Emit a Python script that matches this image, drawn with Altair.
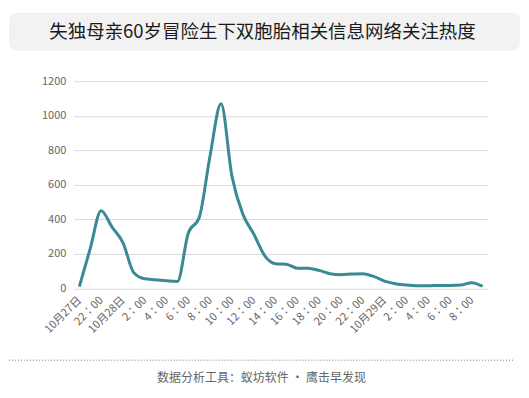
import altair as alt
import pandas as pd

title_text = "失独母亲60岁冒险生下双胞胎相关信息网络关注热度"
footer_text = "数据分析工具：蚁坊软件 · 鹰击早发现"

# hourly points from 10月27日 20:00 to 10月29日 9:00
hours = list(range(38))
values = [10, 230, 450, 355, 265, 90, 55, 50, 44, 40,
          320, 410, 770, 1070, 650, 430, 315, 190, 143, 140,
          117, 117, 104, 85, 79, 83, 85, 69, 42, 27,
          19, 15, 15, 17, 17, 19, 33, 12]
tick_labels = ["10月27日", "22：00", "10月28日", "2：00", "4：00", "6：00", "8：00",
               "10：00", "12：00", "14：00", "16：00", "18：00", "20：00", "22：00",
               "10月29日", "2：00", "4：00", "6：00", "8：00"]
tick_pos = list(range(0, 37, 2))
y_ticks = [0, 200, 400, 600, 800, 1000, 1200]

FONT = "Noto Sans CJK SC"
df = pd.DataFrame({"h": hours, "v": values})
one = pd.DataFrame({"a": [0]})

label_expr = "[" + ",".join("'" + t + "'" for t in tick_labels) + "][round(datum.value/2)]"

frame = alt.Chart(one).mark_rect(fill="white", opacity=0).encode(
    x=alt.value(-65), x2=alt.value(448), y=alt.value(-72.5), y2=alt.value(309.5))

title_box = alt.Chart(one).mark_rect(fill="#f2f2f2", cornerRadius=8).encode(
    x=alt.value(-65), x2=alt.value(447), y=alt.value(-68.5), y2=alt.value(-30.5))

title = alt.Chart(one).mark_text(
    text=title_text, font=FONT, fontSize=18.5, color="#1a1a1a",
    align="center", baseline="middle").encode(x=alt.value(189), y=alt.value(-49.5))

footer_line = alt.Chart(one).mark_rule(color="#777", strokeDash=[1, 2], strokeWidth=1).encode(
    x=alt.value(-65), x2=alt.value(442), y=alt.value(279.5))

footer = alt.Chart(one).mark_text(
    text=footer_text, font=FONT, fontSize=12, color="#666",
    align="center", baseline="middle").encode(x=alt.value(188), y=alt.value(297))

line = alt.Chart(df).mark_line(color="#3a8a96", strokeWidth=3, interpolate="monotone").encode(
    x=alt.X("h:Q", scale=alt.Scale(domain=[-0.5, 37.5], nice=False, zero=False),
            axis=alt.Axis(values=tick_pos, labelExpr=label_expr, labelAngle=-45,
                          labelAlign="right", labelBaseline="middle", labelPadding=10,
                          grid=False, ticks=False, domain=False, title=None,
                          labelFont="Noto Sans CJK JP", labelFontSize=11, labelColor="#666",
                          labelOverlap=False)),
    y=alt.Y("v:Q", scale=alt.Scale(domain=[0, 1200], nice=False),
            axis=alt.Axis(values=y_ticks, format="d", grid=True, gridColor="#d9d9d9",
                          ticks=False, domain=False, title=None, labelFont=FONT,
                          labelFontSize=11, labelColor="#666", labelPadding=8)),
)

chart = alt.layer(frame, title_box, title, footer_line, footer, line).properties(
    width=415, height=207.5, padding=0
).configure_view(stroke=None)

chart.save("out.html", embed_options={"renderer": "svg", "actions": False})
